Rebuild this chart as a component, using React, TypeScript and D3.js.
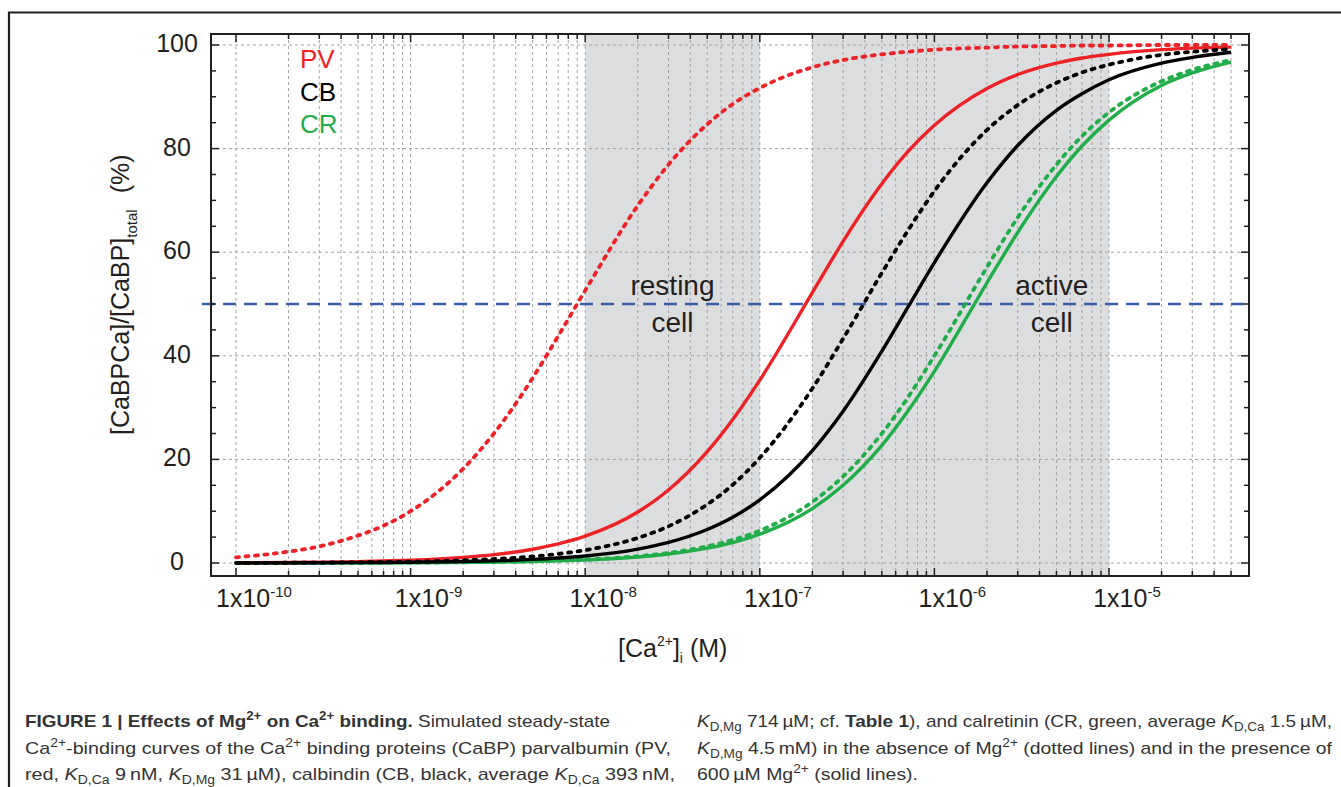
import React from 'react';
import * as d3 from 'd3';

// free Ca2+ concentration (M) at which the curves were read
const caConc = [
  1e-10, 2e-10, 3e-10, 5e-10, 7e-10,
  1e-9, 2e-9, 3e-9, 5e-9, 7e-9,
  1e-8, 2e-8, 3e-8, 5e-8, 7e-8,
  1e-7, 2e-7, 3e-7, 5e-7, 7e-7,
  1e-6, 2e-6, 3e-6, 5e-6, 7e-6,
  1e-5, 2e-5, 3e-5, 5e-5,
];

// % Ca-bound, dotted = no Mg2+, solid = 600 uM Mg2+
const pvNoMg = [1.1, 2.2, 3.2, 5.3, 7.2, 10.0, 18.2, 25.0, 35.7, 43.8, 52.6, 69.0, 76.9, 84.7, 88.6, 91.7, 95.7, 97.1, 98.2, 98.7, 99.1, 99.5, 99.7, 99.8, 99.9, 99.9, 100, 100, 100];
const pvMg = [0.05, 0.11, 0.16, 0.27, 0.38, 0.54, 1.08, 1.61, 2.66, 3.68, 5.18, 9.85, 14.1, 21.5, 27.7, 35.3, 52.2, 62.1, 73.2, 79.3, 84.5, 91.6, 94.3, 96.5, 97.5, 98.2, 99.1, 99.4, 99.6];
const cbNoMg = [0.03, 0.05, 0.08, 0.13, 0.18, 0.25, 0.51, 0.76, 1.26, 1.75, 2.48, 4.84, 7.09, 11.3, 15.1, 20.3, 33.7, 43.3, 56.0, 64.0, 71.8, 83.6, 88.4, 92.7, 94.7, 96.2, 98.1, 98.7, 99.2];
const cbMg = [0.01, 0.03, 0.04, 0.07, 0.10, 0.14, 0.28, 0.41, 0.69, 0.96, 1.36, 2.69, 3.98, 6.47, 8.83, 12.2, 21.7, 29.3, 40.9, 49.2, 58.0, 73.4, 80.6, 87.4, 90.6, 93.3, 96.5, 97.6, 98.6];
const crNoMg = [0.01, 0.01, 0.02, 0.03, 0.05, 0.07, 0.13, 0.20, 0.33, 0.47, 0.66, 1.32, 1.96, 3.23, 4.46, 6.25, 11.8, 16.7, 25.0, 31.8, 40.0, 57.1, 66.7, 76.9, 82.4, 87.0, 93.0, 95.2, 97.1];
const crMg = [0.01, 0.01, 0.02, 0.03, 0.04, 0.06, 0.12, 0.18, 0.29, 0.41, 0.59, 1.16, 1.73, 2.86, 3.95, 5.56, 10.5, 15.0, 22.7, 29.2, 37.0, 54.1, 63.8, 74.6, 80.5, 85.5, 92.2, 94.6, 96.7];

const legendNames = ['PV', 'CB', 'CR'];
const xTickExps = [-10, -9, -8, -7, -6, -5];
const yTicks = [0, 20, 40, 60, 80, 100];
const halfLevel = 50;
const restingRange = [1e-8, 1e-7];
const activeRange = [2e-7, 1e-5];
const gridMax = 5e-5;

const RED = '#ec2227';
const BLACK = '#000000';
const GREEN = '#20ad4a';
const INK = '#231f20';
const FONT = '"Liberation Sans", Arial, Helvetica, sans-serif';

const P = { left: 211, right: 1249, top: 34, bottom: 576 };

type Seg = { t: string; s?: 'sup' | 'sub'; b?: boolean; i?: boolean };

const captionLines: { x: number; y: number; len: number; segs: Seg[] }[] = [
  { x: 25, y: 727, len: 585, segs: [
    { t: 'FIGURE 1 | Effects of Mg', b: true }, { t: '2+', s: 'sup', b: true },
    { t: ' on Ca', b: true }, { t: '2+', s: 'sup', b: true }, { t: ' binding.', b: true },
    { t: ' Simulated steady-state' }] },
  { x: 25, y: 753.5, len: 646, segs: [
    { t: 'Ca' }, { t: '2+', s: 'sup' }, { t: '-binding curves of the Ca' }, { t: '2+', s: 'sup' },
    { t: ' binding proteins (CaBP) parvalbumin (PV,' }] },
  { x: 25, y: 780, len: 650, segs: [
    { t: 'red, ' }, { t: 'K', i: true }, { t: 'D,Ca', s: 'sub' }, { t: ' 9\u2009nM, ' },
    { t: 'K', i: true }, { t: 'D,Mg', s: 'sub' }, { t: ' 31\u2009\u00b5M), calbindin (CB, black, average ' },
    { t: 'K', i: true }, { t: 'D,Ca', s: 'sub' }, { t: ' 393\u2009nM,' }] },
  { x: 697, y: 727, len: 635, segs: [
    { t: 'K', i: true }, { t: 'D,Mg', s: 'sub' }, { t: ' 714\u2009\u00b5M; cf. ' }, { t: 'Table 1', b: true },
    { t: '), and calretinin (CR, green, average ' }, { t: 'K', i: true }, { t: 'D,Ca', s: 'sub' },
    { t: ' 1.5\u2009\u00b5M,' }] },
  { x: 697, y: 753.5, len: 635, segs: [
    { t: 'K', i: true }, { t: 'D,Mg', s: 'sub' }, { t: ' 4.5\u2009mM) in the absence of Mg' }, { t: '2+', s: 'sup' },
    { t: ' (dotted lines) and in the presence of' }] },
  { x: 697, y: 780, len: 221, segs: [
    { t: '600\u2009\u00b5M Mg' }, { t: '2+', s: 'sup' }, { t: ' (solid lines).' }] },
];

const RichText = ({ segs, size, small, up, down }: { segs: Seg[]; size: number; small: number; up: number; down: number }) => {
  let shift = 0;
  return (
    <>
      {segs.map((g, k) => {
        const target = g.s === 'sup' ? -up : g.s === 'sub' ? down : 0;
        const dy = target - shift;
        shift = target;
        return (
          <tspan key={k} dy={dy} fontSize={g.s ? small : size}
            fontWeight={g.b ? 'bold' : 'normal'} fontStyle={g.i ? 'italic' : 'normal'}>
            {g.t}
          </tspan>
        );
      })}
    </>
  );
};

export default function App() {
  const x = d3.scaleLog().domain([1e-10, 1e-5]).range([236, 1109]);
  const y = d3.scaleLinear().domain([0, 100]).range([563, 45]);

  const gridX: number[] = [];
  for (let e = -10; e <= -5; e++) {
    for (let m = 1; m <= 9; m++) {
      const v = m * Math.pow(10, e);
      if (v <= gridMax * 1.0001) gridX.push(v);
    }
  }
  const minorY = d3.range(0, 101, 5).filter(v => v % 20 !== 0);

  const line = d3.line<number>()
    .x((_, i) => x(caConc[i]))
    .y(d => y(d))
    .curve(d3.curveMonotoneX);

  const series = [
    { v: crMg, c: GREEN, dot: false },
    { v: crNoMg, c: GREEN, dot: true },
    { v: pvMg, c: RED, dot: false },
    { v: pvNoMg, c: RED, dot: true },
    { v: cbMg, c: BLACK, dot: false },
    { v: cbNoMg, c: BLACK, dot: true },
  ];
  const legendColors = [RED, BLACK, GREEN];

  const isMajor = (v: number) => Math.abs(Math.log10(v) - Math.round(Math.log10(v))) < 1e-6;

  return (
    <svg width={1341} height={787} style={{ position: 'absolute', left: 0, top: 0, background: '#fff' }}
      fontFamily={FONT}>
      {/* outer figure frame */}
      <path d="M9,787 V12.5 H1341" fill="none" stroke={INK} strokeWidth={2.2} />

      {/* shaded concentration ranges */}
      {[restingRange, activeRange].map((r, k) => (
        <rect key={k} x={x(r[0])} y={P.top} width={x(r[1]) - x(r[0])} height={P.bottom - P.top} fill="#dcdddf" />
      ))}

      {/* grid */}
      {gridX.map((v, k) => (
        <line key={'gx' + k} x1={x(v)} x2={x(v)} y1={P.top} y2={P.bottom}
          stroke="#a3a3a3" strokeWidth={1} strokeDasharray="3 3" />
      ))}
      {yTicks.map(v => (
        <line key={'gy' + v} x1={P.left} x2={P.right} y1={y(v)} y2={y(v)}
          stroke="#a3a3a3" strokeWidth={1} strokeDasharray="3 3" />
      ))}

      {/* 50 % line */}
      <line x1={202} x2={P.right} y1={y(halfLevel)} y2={y(halfLevel)}
        stroke="#3b5eab" strokeWidth={2.4} strokeDasharray="13 8" />

      {/* curves */}
      {series.map((s, k) => (
        <path key={k} d={line(s.v) || ''} fill="none" stroke={s.c}
          strokeWidth={s.dot ? 3.8 : 3.4}
          strokeDasharray={s.dot ? '3 6.5' : undefined}
          strokeLinecap={s.dot ? 'round' : 'butt'} strokeLinejoin="round" />
      ))}

      {/* axes box */}
      <rect x={P.left} y={P.top} width={P.right - P.left} height={P.bottom - P.top}
        fill="none" stroke={INK} strokeWidth={2} />

      {/* x ticks, bottom and top, pointing inward */}
      {gridX.map((v, k) => {
        const len = isMajor(v) ? 8 : 5;
        return (
          <g key={'tx' + k} stroke={INK} strokeWidth={1.5}>
            <line x1={x(v)} x2={x(v)} y1={P.bottom} y2={P.bottom - len} />
            <line x1={x(v)} x2={x(v)} y1={P.top} y2={P.top + len} />
          </g>
        );
      })}
      {/* y ticks, left and right */}
      {yTicks.concat(minorY).map(v => {
        const len = v % 20 === 0 ? 8 : 5;
        return (
          <g key={'ty' + v} stroke={INK} strokeWidth={1.5}>
            <line x1={P.left} x2={P.left + len} y1={y(v)} y2={y(v)} />
            <line x1={P.right} x2={P.right - len} y1={y(v)} y2={y(v)} />
          </g>
        );
      })}

      {/* tick labels */}
      {xTickExps.map(e => (
        <text key={'lx' + e} x={x(Math.pow(10, e)) + 18} y={607} textAnchor="middle" fontSize={25} fill={INK}>
          1x10<tspan fontSize={15} dy={-10}>{String(e)}</tspan>
        </text>
      ))}
      {yTicks.map(v => (
        <text key={'ly' + v} x={177} y={y(v) + 7} textAnchor="middle" fontSize={25} fill={INK}>{v}</text>
      ))}

      {/* axis titles */}
      <text x={618} y={657} fontSize={25} fill={INK}>
        [Ca<tspan fontSize={14} dy={-11}>2+</tspan><tspan dy={11}>]</tspan>
        <tspan fontSize={14} dy={6}>i</tspan><tspan dy={-6}> (M)</tspan>
      </text>
      <text transform="translate(129,435) rotate(-90)" fontSize={25} fill={INK}>
        [CaBPCa]/[CaBP]<tspan fontSize={15} dy={8}>total</tspan><tspan dy={-8} dx={16}>(%)</tspan>
      </text>

      {/* legend */}
      {legendNames.map((n, k) => (
        <text key={n} x={300} y={68 + k * 32.6} fontSize={26} fill={legendColors[k]}>{n}</text>
      ))}

      {/* range annotations */}
      <text x={(x(restingRange[0]) + x(restingRange[1])) / 2} y={295} textAnchor="middle" fontSize={28} fill={INK}>resting</text>
      <text x={(x(restingRange[0]) + x(restingRange[1])) / 2} y={332} textAnchor="middle" fontSize={28} fill={INK}>cell</text>
      <text x={x(4.7e-6)} y={295} textAnchor="middle" fontSize={28} fill={INK}>active</text>
      <text x={x(4.7e-6)} y={332} textAnchor="middle" fontSize={28} fill={INK}>cell</text>

      {/* caption */}
      {captionLines.map((l, k) => (
        <text key={'c' + k} x={l.x} y={l.y} fontSize={17} fill="#333" textLength={l.len} lengthAdjust="spacingAndGlyphs">
          <RichText segs={l.segs} size={17} small={12} up={7} down={4} />
        </text>
      ))}
    </svg>
  );
}
